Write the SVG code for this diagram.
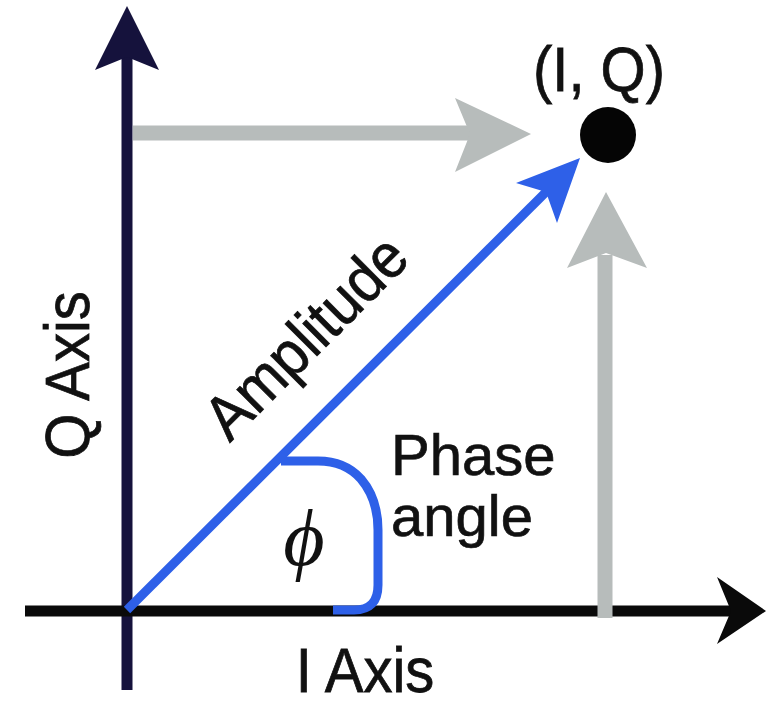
<svg xmlns="http://www.w3.org/2000/svg" width="777" height="713" viewBox="0 0 777 713">
<style>
  .lbl { font-family: "Liberation Sans", Arial, Helvetica, sans-serif; font-size: 58px; fill: #111; stroke: #111; stroke-width: 0.7; }
  .navy { stroke: #15123c; fill: none; stroke-width: 11; }
  .black { stroke: #0a0a0a; fill: none; stroke-width: 11; }
  .gray { stroke: #b7bcbb; fill: none; stroke-width: 15; }
  .blue { stroke: #2e60e8; fill: none; stroke-width: 9; }
</style>
<rect width="777" height="713" fill="#ffffff"/>
<g id="connectors">
  <!-- Q axis -->
  <line class="navy" x1="127" y1="690" x2="127" y2="55"/>
  <polygon fill="#15123c" points="127,6 159,70 127,57 95,70"/>
  <!-- I axis -->
  <line class="black" x1="25" y1="611" x2="735" y2="611"/>
  <polygon fill="#0a0a0a" points="766,611 717,577 731,611 717,644"/>
  <!-- gray projections -->
  <line class="gray" x1="133" y1="133" x2="475" y2="133"/>
  <polygon fill="#b7bcbb" points="531,134 455,98 470,134 455,172"/>
  <line class="gray" x1="605" y1="618" x2="605" y2="255"/>
  <polygon fill="#b7bcbb" points="606,192 647,268 606,253 567,268"/>
  <!-- amplitude vector -->
  <line class="blue" x1="127" y1="610" x2="552" y2="186"/>
  <polygon fill="#2e60e8" points="580,158 557,223 546,192 516,183"/>
  <!-- phase angle arc -->
  <path class="blue" stroke-width="8" d="M 281 461 L 318 461 Q 345 461 361 479 Q 378 499 378 530 L 378 585 Q 378 610 354 610 L 333 610"/>
</g>
<g id="point-IQ">
  <circle cx="608" cy="135" r="28" fill="#050505"/>
  <text class="lbl" transform="translate(599,91) scale(1,1.1)" text-anchor="middle" font-size="56">(I, Q)</text>
</g>
<g id="label-q-axis">
  <text class="lbl" transform="translate(89,375) rotate(-90) scale(1,1.1)" text-anchor="middle">Q Axis</text>
</g>
<g id="label-i-axis">
  <text class="lbl" transform="translate(365,692) scale(1,1.1)" text-anchor="middle">I Axis</text>
</g>
<g id="label-amplitude">
  <text class="lbl" transform="translate(321,352) rotate(-45) scale(1,1.08)" text-anchor="middle">Amplitude</text>
</g>
<g id="label-phase">
  <text class="lbl" x="391" y="475" font-size="55">Phase</text>
  <text class="lbl" x="391" y="536" font-size="55">angle</text>
</g>
<g id="label-phi">
  <text x="304" y="565" text-anchor="middle" font-family="'Liberation Serif', 'Times New Roman', serif" font-style="italic" font-size="80" fill="#111">ϕ</text>
</g>
</svg>
